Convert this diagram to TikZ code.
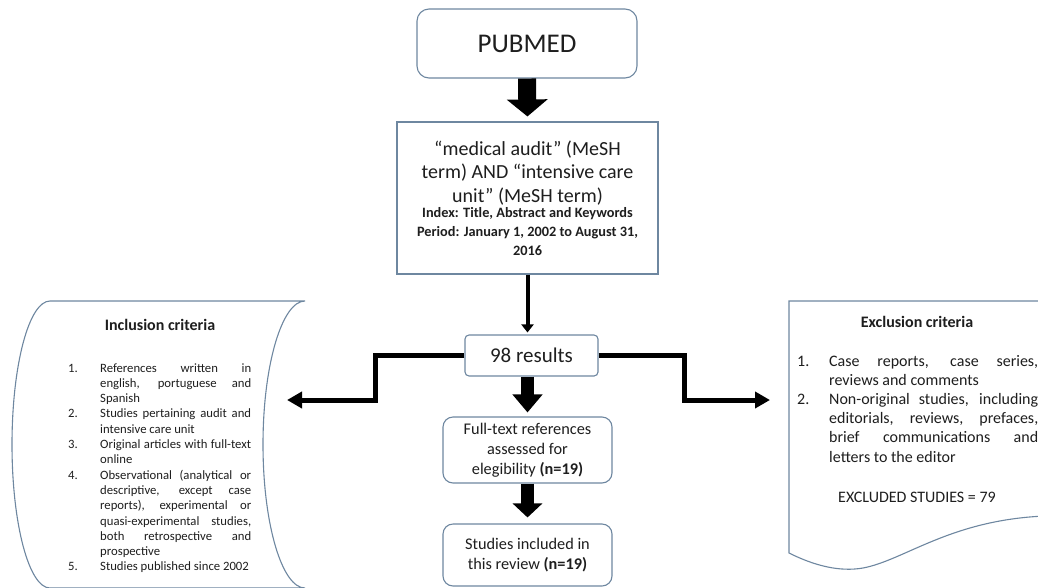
\documentclass[tikz,border=0pt]{standalone}
\usepackage{fontspec}
\setmainfont{Carlito}
\usetikzlibrary{arrows.meta,calc}
\definecolor{edgecol}{RGB}{110,135,160}
\definecolor{ink}{RGB}{30,30,30}
\newcommand{\itm}[2]{\hangindent=32pt\hangafter=1\noindent\makebox[32pt][l]{#1}#2\par}
\begin{document}
\begin{tikzpicture}[x=1pt,y=-1pt,
  every node/.style={text=ink},
  boxline/.style={draw=edgecol,line width=1.1pt,fill=white},
  rbox/.style={boxline,rounded corners=#1,inner sep=0pt},
  rbox/.default=10pt,
  blockarrow/.style={draw=black,line width=#1},
  thinarrow/.style={draw=black,line width=4pt,-{Triangle[width=12pt,length=8pt]}},
  elbow/.style={draw=black,line width=5pt,line join=miter,-{Triangle[width=16pt,length=15pt]}},
]
\useasboundingbox (0,0) rectangle (1038,587);

% side shapes
\draw[boxline] (50,301) -- (305,301)
  .. controls (282,301) and (263,365) .. (263,444.5)
  .. controls (263,524) and (282,588) .. (305,588)
  -- (50,588)
  .. controls (29,588) and (12,524) .. (12,444.5)
  .. controls (12,365) and (29,301) .. (50,301) -- cycle;
\draw[boxline] (789,301) -- (1045,301) -- (1045,516)
  .. controls (950,520) and (905,560) .. (863,568)
  .. controls (840,572) and (815,566) .. (789,553) -- cycle;

% main boxes
\node[rbox=12pt,minimum width=220pt,minimum height=69pt,font=\fontsize{27}{32}\selectfont] (pub) at (527,43.5) {PUBMED};
\node[boxline,minimum width=261pt,minimum height=152pt,inner sep=0pt] (query) at (527.5,198)
  {\parbox{258pt}{\centering\fontsize{20}{23.5}\selectfont
   “medical audit” (MeSH\\term) AND “intensive care\\unit” (MeSH term)\par
   \vspace{-4pt}\fontsize{14.3}{19}\selectfont\bfseries
   Index: Title, Abstract and Keywords\\Period: January 1, 2002 to August 31,\\2016\par}};
\node[rbox=4pt,minimum width=133pt,minimum height=41pt,font=\fontsize{21}{25}\selectfont] (res) at (531.5,355.5) {98 results};
\node[rbox=10pt,minimum width=169pt,minimum height=66pt,align=center,font=\fontsize{16.3}{20}\selectfont] (full) at (527.5,450)
  {Full-text references\\assessed for\\elegibility \textbf{(n=19)}};
\node[rbox=10pt,minimum width=169pt,minimum height=62pt,align=center,font=\fontsize{16.3}{20}\selectfont] (incl) at (527.5,555)
  {Studies included in\\this review \textbf{(n=19)}};

% arrows
\draw[blockarrow=18pt,-{Triangle[width=40pt,length=17pt]},shorten >=5pt] (pub.south) -- (query.north);
\draw[thinarrow,shorten >=2pt] (query.south) -- (query.south |- res.north);
\draw[blockarrow=13pt,-{Triangle[width=29pt,length=18pt]},shorten >=4pt] (res.south -| full.north) -- (full.north);
\draw[blockarrow=13pt,-{Triangle[width=29pt,length=14pt]},shorten >=6pt] (full.south) -- (incl.north);
\coordinate (inarr) at (287,400);
\coordinate (exarr) at (770,400);
\draw[elbow] (res.west) -- ++(-89,0) |- (inarr);
\draw[elbow] (res.east) -- ++(86,0) |- (exarr);

% inclusion criteria text
\node[font=\fontsize{16}{19}\selectfont\bfseries] (inctitle) at (160,325) {Inclusion criteria};
\node[anchor=base west,inner sep=0pt] (inclist) at (68,372)
  {\parbox[t]{183pt}{\fontsize{12.7}{15.3}\selectfont\tolerance=10000\hyphenpenalty=10000
   \itm{1.}{References written in\linebreak english, portuguese and\linebreak Spanish}
   \itm{2.}{Studies pertaining audit and\linebreak intensive care unit}
   \itm{3.}{Original articles with full-text\linebreak online}
   \itm{4.}{Observational (analytical or\linebreak descriptive, except case\linebreak reports), experimental or\linebreak quasi-experimental studies,\linebreak both retrospective and\linebreak prospective}
   \itm{5.}{Studies published since 2002}}};

% exclusion criteria text
\node[font=\fontsize{16}{19}\selectfont\bfseries] (exctitle) at (917,322) {Exclusion criteria};
\node[anchor=base west,inner sep=0pt] (exclist) at (797,366)
  {\parbox[t]{241pt}{\fontsize{16}{19.2}\selectfont\tolerance=10000\hyphenpenalty=10000
   \itm{1.}{Case reports, case series,\linebreak reviews and comments}
   \itm{2.}{Non-original studies, including\linebreak editorials, reviews, prefaces,\linebreak brief communications and\linebreak letters to the editor}}};
\node[anchor=base west,inner sep=0pt,font=\fontsize{16}{19}\selectfont] (exctotal) at (838,502) {EXCLUDED STUDIES = 79};
\end{tikzpicture}
\end{document}
